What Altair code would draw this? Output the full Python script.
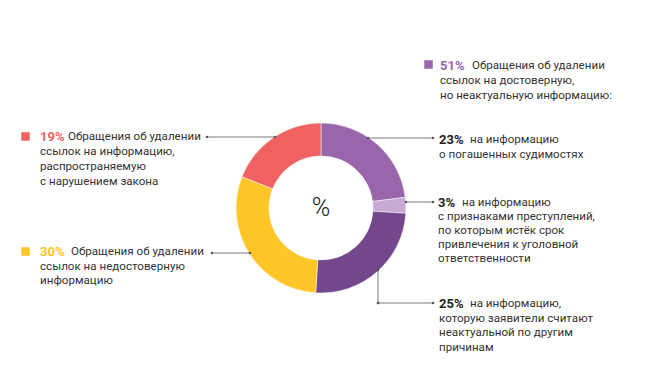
import altair as alt
import pandas as pd

# ---- data ----
slice_labels = ["23% погашенные судимости", "3% истёк срок", "25% другие причины", "30% недостоверная", "19% нарушение закона"]
slice_values = [23, 3, 25, 30, 19]
slice_colors = ["#9966AC", "#C8A9D3", "#74478C", "#FFC629", "#F06262"]

block_pcts = ["19%", "30%", "51%", "23%", "3%", "25%"]
block_first = [
    "Обращения об удалении",
    "Обращения об удалении",
    "Обращения об удалении",
    "на информацию",
    "на информацию",
    "на информацию,",
]
block_rest = [
    ["ссылок на информацию,", "распространяемую", "с нарушением закона"],
    ["ссылок на недостоверную", "информацию"],
    ["ссылок на достоверную,", "но неактуальную информацию:"],
    ["о погашенных судимостях"],
    ["с признаками преступлений,", "по которым истёк срок", "привлечения к уголовной", "ответственности"],
    ["которую заявители считают", "неактуальной по другим", "причинам"],
]
pct_colors = ["#F06262", "#FFC629", "#9966AC", "#222222", "#222222", "#222222"]

# ---- layout (page pixels, converted to chart pixels) ----
M = 8
W, H = 629, 376
cx, cy = 321 - M, 208 - M
pct_x = [40, 40, 440, 439, 438, 439]
rest_x = [68, 71, 472, 470, 462, 470]
line_y0 = [137, 252, 66, 140, 203, 304]
line_h = [15, 14.5, 15, 15, 14, 14.7]
squares = [(25.5, 136.5, 0), (25.5, 251.5, 1), (428.5, 64.5, 2)]
segments = [
    (207, 137, 275, 137),
    (212, 253, 250, 253),
    (368, 138, 433, 138),
    (406, 202, 433, 202),
    (378, 270, 378, 303),
    (378, 303, 433, 303),
]

pie_df = pd.DataFrame({"label": slice_labels, "value": slice_values, "order": list(range(len(slice_values)))})

pct_rows, first_rows, rest_rows = [], [], []
for i in range(len(block_pcts)):
    pct_rows.append({"x": pct_x[i] - M, "y": line_y0[i] - M, "t": block_pcts[i], "c": pct_colors[i]})
    first_rows.append({"x": rest_x[i] - M, "y": line_y0[i] - M, "t": block_first[i]})
    for j, line in enumerate(block_rest[i]):
        rest_rows.append({"x": pct_x[i] - M, "y": line_y0[i] + (j + 1) * line_h[i] - M, "t": line})
pct_df = pd.DataFrame(pct_rows)
first_df = pd.DataFrame(first_rows)
rest_df = pd.DataFrame(rest_rows)

sq_df = pd.DataFrame([{"x": s[0] - M, "y": s[1] - M, "c": pct_colors[s[2]]} for s in squares])
seg_df = pd.DataFrame([{"x": a - M, "y": b - M, "x2": c - M, "y2": d - M} for a, b, c, d in segments])
dot_df = pd.DataFrame(
    [{"x": a - M, "y": b - M} for a, b, c, d in segments] + [{"x": c - M, "y": d - M} for a, b, c, d in segments]
)

FONT = "Roboto"
FS = 11.6
TXT = "#333333"

X = lambda f: alt.X(f, type="quantitative", scale=None, axis=None)
Y = lambda f: alt.Y(f, type="quantitative", scale=None, axis=None)

pie = alt.Chart(pie_df).mark_arc(innerRadius=52, outerRadius=85, stroke="white", strokeWidth=0.5).encode(
    theta=alt.Theta("value:Q", stack=True),
    order=alt.Order("order:Q"),
    color=alt.Color("label:N", scale=alt.Scale(domain=slice_labels, range=slice_colors), legend=None),
    x=alt.value(cx),
    y=alt.value(cy),
)

center = alt.Chart(pd.DataFrame({"t": ["%"]})).mark_text(
    font=FONT, fontSize=25, fontWeight=300, color="#222222", baseline="middle", align="center"
).encode(text="t:N", x=alt.value(cx), y=alt.value(cy))

rules = alt.Chart(seg_df).mark_rule(color="#7a7a7a", strokeWidth=1).encode(
    x=X("x"), y=Y("y"), x2="x2:Q", y2="y2:Q"
)
dots = alt.Chart(dot_df).mark_square(size=5, color="#555555", opacity=1).encode(x=X("x"), y=Y("y"))

sq = alt.Chart(sq_df).mark_square(size=72, opacity=1).encode(
    x=X("x"), y=Y("y"), color=alt.Color("c:N", scale=None)
)

pct_t = alt.Chart(pct_df).mark_text(font=FONT, fontSize=13, fontWeight="bold", align="left", baseline="middle").encode(
    x=X("x"), y=Y("y"), text="t:N", color=alt.Color("c:N", scale=None)
)
first_t = alt.Chart(first_df).mark_text(font=FONT, fontSize=FS, color=TXT, align="left", baseline="middle").encode(
    x=X("x"), y=Y("y"), text="t:N"
)
rest_t = alt.Chart(rest_df).mark_text(font=FONT, fontSize=FS, color=TXT, align="left", baseline="middle").encode(
    x=X("x"), y=Y("y"), text="t:N"
)

chart = alt.layer(pie, center, rules, dots, sq, pct_t, first_t, rest_t).properties(
    width=W, height=H, padding=0, background="white",
    autosize=alt.AutoSizeParams(type="fit", contains="padding")
).configure_view(stroke=None)

chart.save("out.html", embed_options={"renderer": "svg", "actions": False})
